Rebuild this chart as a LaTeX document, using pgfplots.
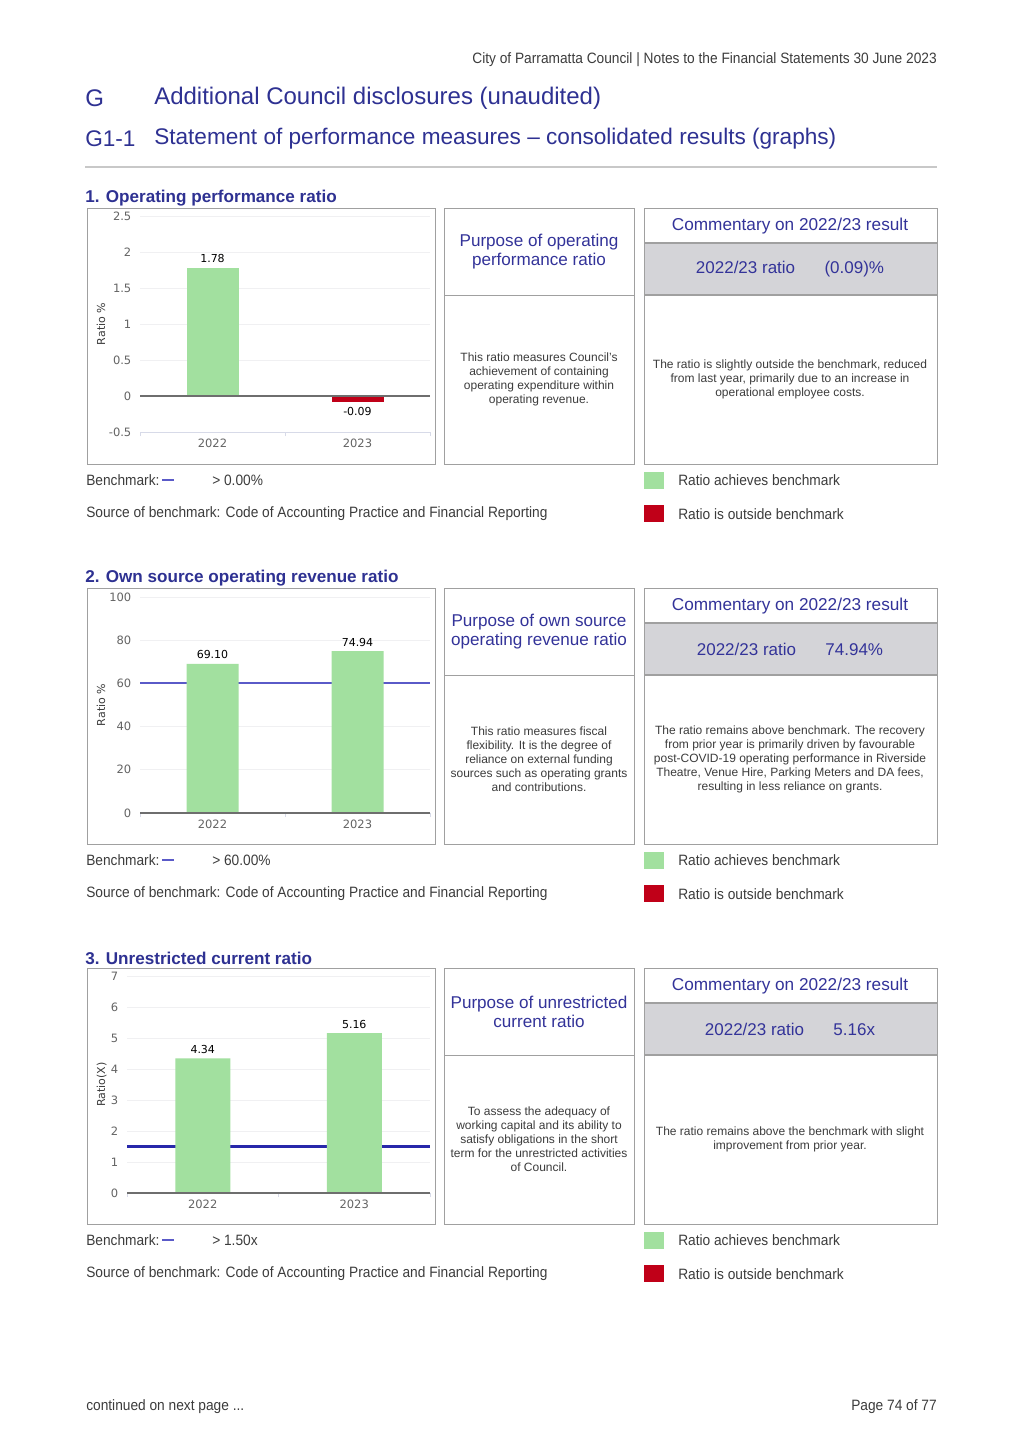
\documentclass[border=0pt]{standalone}
\usepackage{pgfplots}
\pgfplotsset{compat=1.18}
\usepackage{fontspec}
\setmainfont{Liberation Sans}
\newfontfamily\dejavu{DejaVu Sans}
\newfontfamily\narrow[FakeStretch=0.915,Ligatures=TeX]{Liberation Sans}
\newcommand\px[1]{\fontsize{\fpeval{#1*0.75}}{\fpeval{#1*0.9}}\selectfont}
\newcommand\pxl[2]{\fontsize{\fpeval{#1*0.75}}{\fpeval{#2*0.75}}\selectfont}
\definecolor{titleblue}{RGB}{46,49,146}
\definecolor{boxblue}{RGB}{51,51,153}
\definecolor{bodygray}{RGB}{60,60,60}
\definecolor{framegray}{RGB}{160,160,160}
\definecolor{cellgray}{RGB}{212,212,216}
\definecolor{barGreen}{RGB}{162,224,159}
\definecolor{barRed}{RGB}{192,0,24}
\definecolor{gridgray}{RGB}{240,240,242}
\definecolor{tickgray}{RGB}{100,100,100}
\definecolor{axislight}{RGB}{215,218,232}
\definecolor{zerogray}{RGB}{110,110,110}
\definecolor{benchA}{RGB}{90,90,200}
\definecolor{benchB}{RGB}{40,40,170}
\definecolor{rulegray}{RGB}{200,200,200}

\pgfplotsset{chart/.style={
  scale only axis, anchor=south west, clip=false,
  xmin=-0.5, xmax=1.5, xtick={0,1}, xticklabels={2022,2023},
  axis line style={draw=none}, major tick style={draw=none},
  xtick pos=lower, ytick pos=left,
  ymajorgrids, grid style={color=gridgray, line width=0.75pt},
  ticklabel style={font=\dejavu\px{11.5}, text=tickgray},
  yticklabel style={xshift=-3pt},
  xticklabel style={yshift=-2pt},
  /pgf/number format/assume math mode=true,
  extra x ticks={-0.5,0.5,1.5}, extra x tick labels={},
  extra x tick style={major tick style={draw=axislight, line width=0.75pt}, major tick length=3pt, tick align=outside},
  ylabel style={font=\dejavu\px{11}, text=bodygray, anchor=center},
  point meta=explicit symbolic,
}, bars/.style={ybar, bar shift=0pt, bar width=39pt, draw=none, nodes near coords={\pgfplotspointmeta}, nodes near coords style={font=\dejavu\px{11}, text=black}}}

\newcommand\ratiosection[7]{%
 \node[anchor=west, inner sep=0, font=\bfseries\px{17.1}, text=titleblue] at (85,#1-10) {#2};
 \draw[framegray, line width=0.75pt] (87,#1) rectangle (435,#1+256);
 \draw[framegray, line width=0.75pt] (444,#1) rectangle (634,#1+256);
 \draw[framegray, line width=0.75pt] (444,#1+87) -- (634,#1+87);
 \fill[cellgray] (644,#1+35) rectangle (937,#1+87);
 \draw[framegray, line width=0.75pt] (644,#1) rectangle (937,#1+256);
 \draw[framegray, line width=1pt] (644,#1+35) -- (937,#1+35);
 \draw[framegray, line width=1pt] (644,#1+87) -- (937,#1+87);
 \node[align=center, font=\pxl{17.1}{19}, text=boxblue] at (539,#1+44) {#3};
 \node[align=center, font=\pxl{12}{14}, text=bodygray] at (539,#1+171) {#4};
 \node[font=\px{17.2}, text=boxblue] at (790,#1+18) {Commentary on 2022/23 result};
 \node[font=\px{17}, text=boxblue] at (790,#1+61) {2022/23 ratio\hspace{22pt}#5};
 \node[align=center, font=\pxl{12}{14}, text=bodygray] at (790,#1+171) {#6};
 \node[anchor=west, inner sep=0, font=\narrow\px{15}, text=bodygray] at (86,#1+272) {Benchmark:};
 \draw[benchA, line width=1.1pt] (162,#1+272) -- (174,#1+272);
 \node[anchor=west, inner sep=0, font=\narrow\px{15}, text=bodygray] at (212,#1+272) {#7};
 \node[anchor=west, inner sep=0, font=\narrow\px{15}, text=bodygray] at (86,#1+306) {Source of benchmark: Code of Accounting Practice and Financial Reporting};
 \fill[barGreen] (644,#1+264) rectangle (664,#1+281);
 \node[anchor=west, inner sep=0, font=\narrow\px{15}, text=bodygray] at (678,#1+272) {Ratio achieves benchmark};
 \fill[barRed] (644,#1+297) rectangle (664,#1+314);
 \node[anchor=west, inner sep=0, font=\narrow\px{15}, text=bodygray] at (678,#1+306) {Ratio is outside benchmark};
}

\begin{document}
\begin{tikzpicture}[x=0.75pt,y=-0.75pt]
\fill[white] (0,0) rectangle (1024,1449);
% header
\node[anchor=east, inner sep=0, font=\narrow\px{15}, text=bodygray] at (937,60) {City of Parramatta Council | Notes to the Financial Statements 30 June 2023};
\node[anchor=west, inner sep=0, font=\px{24}, text=titleblue] at (85,98) {G};
\node[anchor=west, inner sep=0, font=\px{24}, text=titleblue] at (154,98) {Additional Council disclosures (unaudited)};
\node[anchor=west, inner sep=0, font=\px{22.6}, text=titleblue] at (85,139) {G1-1};
\node[anchor=west, inner sep=0, font=\px{22.6}, text=titleblue] at (154,139) {Statement of performance measures – consolidated results (graphs)};
\draw[rulegray, line width=1.2pt] (85,167) -- (937,167);

\ratiosection{208}{1. Operating performance ratio}{Purpose of operating\\performance ratio}{This ratio measures Council’s\\achievement of containing\\operating expenditure within\\operating revenue.}{(0.09)\%}{The ratio is slightly outside the benchmark, reduced\\from last year, primarily due to an increase in\\operational employee costs.}{> 0.00\%}

\ratiosection{588}{2. Own source operating revenue ratio}{Purpose of own source\\operating revenue ratio}{This ratio measures fiscal\\flexibility. It is the degree of\\reliance on external funding\\sources such as operating grants\\and contributions.}{74.94\%}{The ratio remains above benchmark. The recovery\\from prior year is primarily driven by favourable\\post-COVID-19 operating performance in Riverside\\Theatre, Venue Hire, Parking Meters and DA fees,\\resulting in less reliance on grants.}{> 60.00\%}

\ratiosection{968}{3. Unrestricted current ratio}{Purpose of unrestricted\\current ratio}{To assess the adequacy of\\working capital and its ability to\\satisfy obligations in the short\\term for the unrestricted activities\\of Council.}{5.16x}{The ratio remains above the benchmark with slight\\improvement from prior year.}{> 1.50x}

% footer
\node[anchor=west, inner sep=0, font=\narrow\px{15}, text=bodygray] at (86,1407) {continued on next page ...};
\node[anchor=east, inner sep=0, font=\narrow\px{15}, text=bodygray] at (937,1407) {Page 74 of 77};

\coordinate (c1) at (140,432);
\coordinate (c2) at (140,813);
\coordinate (c3) at (127,1193);

\begin{axis}[chart, at={(c1)}, width=217.5pt, height=162pt,
  ymin=-0.5, ymax=2.5, ytick={-0.5,0,0.5,1,1.5,2,2.5},
  ylabel={Ratio \%}, ylabel style={at={(axis description cs:-0.1345,0.5)}}]
\addplot[bars, fill=barGreen] coordinates {(0,1.78) [1.78]};
\addplot[bars, fill=barRed, nodes near coords style={anchor=north}] coordinates {(1,-0.09) [-0.09]};
\draw[axislight, line width=0.75pt] (axis cs:-0.5,-0.5) -- (axis cs:1.5,-0.5);
\draw[zerogray, line width=1.1pt] (axis cs:-0.5,0) -- (axis cs:1.5,0);
\end{axis}

\begin{axis}[chart, at={(c2)}, width=217.5pt, height=162pt,
  ymin=0, ymax=100, ytick={0,20,40,60,80,100},
  ylabel={Ratio \%}, ylabel style={at={(axis description cs:-0.1345,0.5)}}]
\addplot[sharp plot, benchA, line width=1.4pt, forget plot] coordinates {(-0.5,60) (1.5,60)};
\addplot[bars, fill=barGreen] coordinates {(0,69.10) [69.10] (1,74.94) [74.94]};
\draw[zerogray, line width=1.1pt] (axis cs:-0.5,0) -- (axis cs:1.5,0);
\end{axis}

\begin{axis}[chart, at={(c3)}, width=227.25pt, height=162.75pt,
  ymin=0, ymax=7, ytick={0,1,2,3,4,5,6,7},
  ylabel={Ratio(X)}, ylabel style={at={(axis description cs:-0.084,0.5)}}]
\addplot[sharp plot, benchB, line width=1.8pt, forget plot] coordinates {(-0.5,1.5) (1.5,1.5)};
\addplot[bars, fill=barGreen, bar width=41.25pt] coordinates {(0,4.34) [4.34] (1,5.16) [5.16]};
\draw[zerogray, line width=1.1pt] (axis cs:-0.5,0) -- (axis cs:1.5,0);
\end{axis}
\end{tikzpicture}
\end{document}
